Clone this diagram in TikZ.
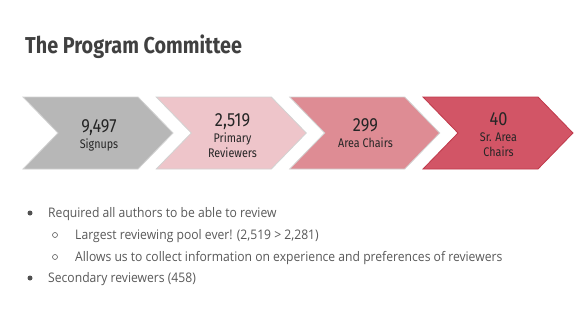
\documentclass[tikz,border=0pt]{standalone}
\usepackage{fontspec}
\setmainfont{Open Sans}
\newfontfamily\headfont[FakeStretch=0.86]{Fira Sans}
\newfontfamily\bodyfont[FakeStretch=0.92]{Open Sans}
\definecolor{cgray}{HTML}{B7B7B7}
\definecolor{cgrayb}{HTML}{D2D2D2}
\definecolor{cpinkA}{HTML}{EEC5CA}
\definecolor{cpinkB}{HTML}{DE8C94}
\definecolor{credC}{HTML}{D25566}
\definecolor{credb}{HTML}{C0394B}
\definecolor{ctitle}{HTML}{404040}
\definecolor{ctext}{HTML}{262626}
\definecolor{cbody}{HTML}{595959}
\tikzset{
  chev/.style={line width=0.8pt},
  numtxt/.style={font=\headfont\fontsize{19}{21}\selectfont, text=ctext, align=center, inner sep=0pt},
  bodytxt/.style={font=\bodyfont\fontsize{13.2}{15}\selectfont, text=cbody, anchor=base west, inner sep=0pt},
  bul/.style={circle, fill=cbody!90!black, inner sep=0pt, minimum size=5pt},
  obul/.style={circle, draw=cbody, line width=0.6pt, inner sep=0pt, minimum size=5pt}
}
\newcommand{\chevshape}[3]{%
  \fill[#2, draw=#3, chev] (#1pt,-97pt) -- ++(115pt,0) -- ++(35pt,-36pt) -- ++(-35pt,-36pt) -- ++(-115pt,0) -- ++(35pt,36pt) -- cycle;}
\newcommand{\lab}[1]{{\fontsize{12.5}{13}\selectfont #1}}
\begin{document}
\begin{tikzpicture}[x=1pt,y=-1pt]
\useasboundingbox (0,0) rectangle (576,322);
\fill[white] (0,0) rectangle (576,322);
\node[anchor=base west, inner sep=0pt, text=ctitle, font=\headfont\bfseries\fontsize{23}{26}\selectfont] (title) at (25,53) {The Program Committee};
\chevshape{23}{cgray}{cgrayb}
\chevshape{156.3}{cpinkA}{cgrayb}
\chevshape{289.7}{cpinkB}{cgrayb}
\chevshape{423}{credC}{credb}
\node[numtxt] (c1) at (99,135) {9,497\\[-5pt]\lab{Signups}};
\node[numtxt] (c2) at (232.5,136) {2,519\\[-5pt]\lab{Primary}\\[-6pt]\lab{Reviewers}};
\node[numtxt] (c3) at (365.5,133) {299\\[-5pt]\lab{Area Chairs}};
\node[numtxt] (c4) at (498.5,134.5) {40\\[-5pt]\lab{Sr. Area}\\[-6pt]\lab{Chairs}};
\node[bul] (b1) at (30,213) {};
\node[bodytxt] (t1) at (48,217) {Required all authors to be able to review};
\node[obul] (b2) at (55,235) {};
\node[bodytxt] (t2) at (75,239) {Largest reviewing pool ever! (2,519 > 2,281)};
\node[obul] (b3) at (55,257) {};
\node[bodytxt] (t3) at (75,261) {Allows us to collect information on experience and preferences of reviewers};
\node[bul] (b4) at (30,278) {};
\node[bodytxt] (t4) at (48,282) {Secondary reviewers (458)};
\end{tikzpicture}
\end{document}
